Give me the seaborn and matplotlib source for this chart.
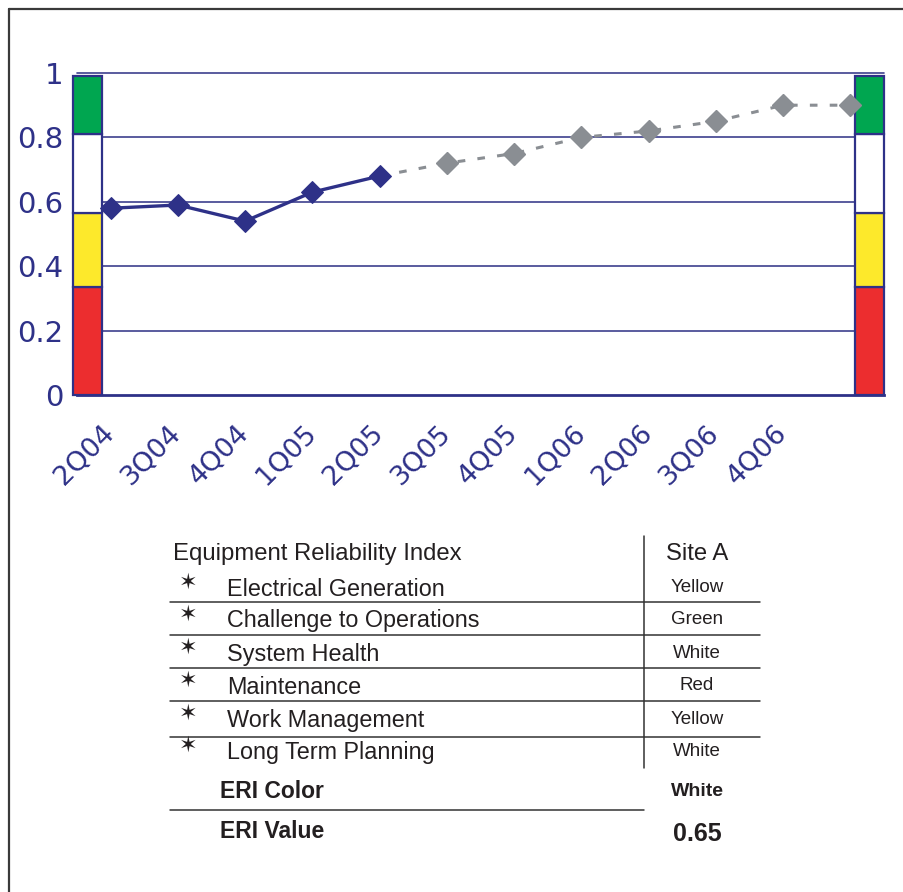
import numpy as np
import pandas as pd
import matplotlib.pyplot as plt
import seaborn as sns
from matplotlib.lines import Line2D
import matplotlib.transforms as mtransforms

quarters = ["2Q04", "3Q04", "4Q04", "1Q05", "2Q05", "3Q05", "4Q05", "1Q06", "2Q06", "3Q06", "4Q06", ""]
actual_eri = [0.58, 0.59, 0.54, 0.63, 0.68]
projected_eri = [0.68, 0.72, 0.75, 0.80, 0.82, 0.85, 0.90, 0.90]  # from 2Q05 onward

band_edges = [0, 0.335, 0.565, 0.81, 0.99]
band_colors = ["#ec2d2f", "#fde92b", "#ffffff", "#00a650"]

table_rows = ["Electrical Generation", "Challenge to Operations", "System Health",
              "Maintenance", "Work Management", "Long Term Planning"]
table_values = ["Yellow", "Green", "White", "Red", "Yellow", "White"]
eri_color = "White"
eri_value = "0.65"

navy = "#2e3188"
grid_navy = "#3d3f8e"
gray = "#8a8e93"
ink = "#231f20"

sns.set_style("white")
plt.rcParams["font.family"] = ["DejaVu Sans"]

W, H = 904, 892
fig = plt.figure(figsize=(W / 100, H / 100), dpi=100)
ax = fig.add_axes([77 / W, 1 - 395 / H, 807 / W, 322 / H])

pos = np.arange(len(quarters))
df_act = pd.DataFrame({"x": pos[:len(actual_eri)], "eri": actual_eri})
df_proj = pd.DataFrame({"x": pos[len(actual_eri) - 1:], "eri": projected_eri})

# threshold colour bars at both ends
bw = 0.43
for xc in [-0.56 + bw / 2, len(quarters) - 0.5 - bw / 2]:
    for lo, hi, c in zip(band_edges[:-1], band_edges[1:], band_colors):
        ax.bar(xc, hi - lo, bottom=lo, width=bw, color=c, edgecolor=navy,
               linewidth=1.6, zorder=4, clip_on=False)

for y in [0.2, 0.4, 0.6, 0.8, 1.0]:
    ax.axhline(y, color=grid_navy, lw=1.2, zorder=1, clip_on=False)

sns.lineplot(data=df_proj, x="x", y="eri", ax=ax, color=gray, lw=2.2,
             linestyle=(0, (2.5, 4)), zorder=5)
ax.plot(df_proj["x"][1:], df_proj["eri"][1:], ls="none", marker="D", ms=11.5,
        color=gray, mec=gray, zorder=6)
sns.lineplot(data=df_act, x="x", y="eri", ax=ax, color=navy, lw=2.4,
             marker="D", markersize=11.5, markeredgecolor=navy, zorder=7)

ax.set_xlim(-0.5, len(quarters) - 0.5)
ax.set_ylim(0, 1)
ax.set_xlabel("")
ax.set_ylabel("")
ax.set_yticks([0, 0.2, 0.4, 0.6, 0.8, 1.0])
ax.set_yticklabels(["0", "0.2", "0.4", "0.6", "0.8", "1"])
ax.set_xticks(pos)
ax.set_xticks(np.arange(-0.5, len(quarters)), minor=True)
ax.set_xticklabels(quarters, rotation=45, ha="right", va="center",
                   rotation_mode="anchor")
offset = mtransforms.ScaledTranslation(-8 / 100, 0, fig.dpi_scale_trans)
for lab in ax.get_xticklabels():
    lab.set_transform(lab.get_transform() + offset)

ax.tick_params(axis="x", which="major", length=0, pad=25, labelsize=19.5, labelcolor=navy)
ax.tick_params(axis="x", which="minor", length=7, width=1.2, color=navy, direction="out")
ax.tick_params(axis="y", length=7, width=1.2, color=grid_navy, pad=3,
               labelsize=21, labelcolor=navy, direction="out")
for s in ["left", "right", "top"]:
    ax.spines[s].set_visible(False)
ax.spines["bottom"].set_color(navy)
ax.spines["bottom"].set_linewidth(2)
ax.spines["bottom"].set_zorder(3)
ax.grid(False)

# summary table below the chart
def fx(px):
    return px / W

def fy(py):
    return 1 - py / H

tfont = ["Liberation Sans", "DejaVu Sans"]
fig.text(fx(173), fy(554), "Equipment Reliability Index", fontsize=17.2, color=ink,
         family=tfont, va="center")
fig.text(fx(697), fy(554), "Site A", fontsize=17.2, color=ink, family=tfont,
         va="center", ha="center")
row_y = [589, 621, 654, 687, 720, 752]
for yy, lab, val in zip(row_y, table_rows, table_values):
    fig.text(fx(188), fy(yy - 6), "\u2736", fontsize=16, color=ink,
             family=["DejaVu Sans"], va="center", ha="center")
    fig.text(fx(227), fy(yy), lab, fontsize=16.8, color=ink, family=tfont, va="center")
    fig.text(fx(697), fy(yy - 1), val, fontsize=13.5, color=ink, family=tfont,
             va="center", ha="center")
fig.text(fx(220), fy(791), "ERI Color", fontsize=16.5, color=ink, family=tfont,
         va="center", fontweight="bold")
fig.text(fx(697), fy(791), eri_color, fontsize=14, color=ink, family=tfont,
         va="center", ha="center", fontweight="bold")
fig.text(fx(220), fy(832), "ERI Value", fontsize=16.5, color=ink, family=tfont,
         va="center", fontweight="bold")
fig.text(fx(697), fy(834), eri_value, fontsize=18, color=ink, family=tfont,
         va="center", ha="center", fontweight="bold")

for yy in [602, 635, 668, 701, 737]:
    fig.add_artist(Line2D([fx(170), fx(760)], [fy(yy), fy(yy)], color="#333333", lw=1.1))
fig.add_artist(Line2D([fx(170), fx(644)], [fy(810), fy(810)], color="#333333", lw=1.1))
fig.add_artist(Line2D([fx(644), fx(644)], [fy(536), fy(768)], color="#333333", lw=1.1))

# page border (left and top)
fig.add_artist(Line2D([fx(9), fx(9)], [fy(9), 0], color="#3a3a3a", lw=1.6))
fig.add_artist(Line2D([fx(9), 1], [fy(9), fy(9)], color="#3a3a3a", lw=1.6))

fig.savefig("out.png", dpi=100, facecolor="white")
